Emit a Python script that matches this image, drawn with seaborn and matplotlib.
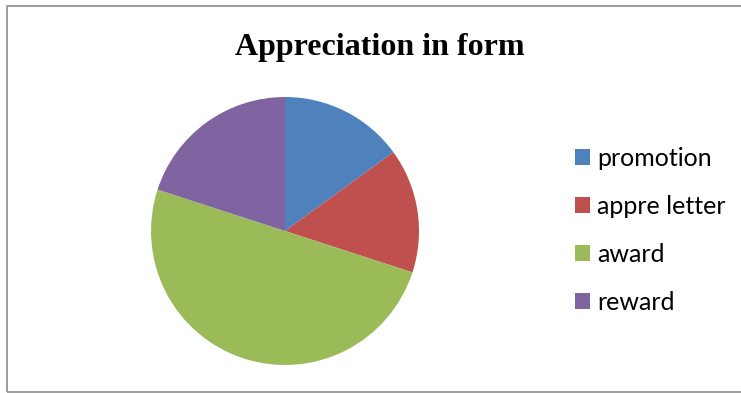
import matplotlib
matplotlib.use("Agg")
import matplotlib.pyplot as plt
import seaborn as sns
from matplotlib.patches import Rectangle

categories = ["promotion", "appre letter", "award", "reward"]
values = [15, 15, 50, 20]
colors = ["#4F81BD", "#C0504D", "#9BBB59", "#8064A2"]
title = "Appreciation in form"

sns.set_theme(style="white")
plt.rcParams["font.family"] = ["Lato", "DejaVu Sans"]
plt.rcParams["text.color"] = "black"

W, H = 741, 393
fig = plt.figure(figsize=(W / 100, H / 100), dpi=100)
fig.patch.set_facecolor("white")

# chart border
fig.patches.append(Rectangle((7 / W, 1 / H), (W + 10) / W, (H - 6.5) / H,
                             transform=fig.transFigure, fill=False,
                             edgecolor="#8c8c8c", linewidth=1.2))

cx, cy, r = 285, 231, 134
ax = fig.add_axes([(cx - r) / W, (H - cy - r) / H, 2 * r / W, 2 * r / H])
wedges, _ = ax.pie(values, colors=sns.color_palette(colors), startangle=90,
                   counterclock=False, radius=1,
                   wedgeprops=dict(linewidth=0))
ax.set_xlim(-1, 1)
ax.set_ylim(-1, 1)
ax.set_aspect("equal")
ax.axis("off")

fig.text(380 / W, 1 - 47 / H, title, ha="center", va="center", color="black",
         fontsize=23, fontweight="bold", family=["Liberation Serif", "DejaVu Serif"])

leg = fig.legend(wedges, categories, loc="center left",
                 bbox_to_anchor=(575 / W, 1 - 230 / H), frameon=False,
                 handlelength=0.6, handleheight=0.6,
                 handletextpad=0.28, labelspacing=1.0, borderpad=0, borderaxespad=0,
                 prop={"family": ["Lato", "DejaVu Sans"], "size": 18})
for t in leg.get_texts():
    t.set_color("black")

fig.savefig("out.png", dpi=100)
